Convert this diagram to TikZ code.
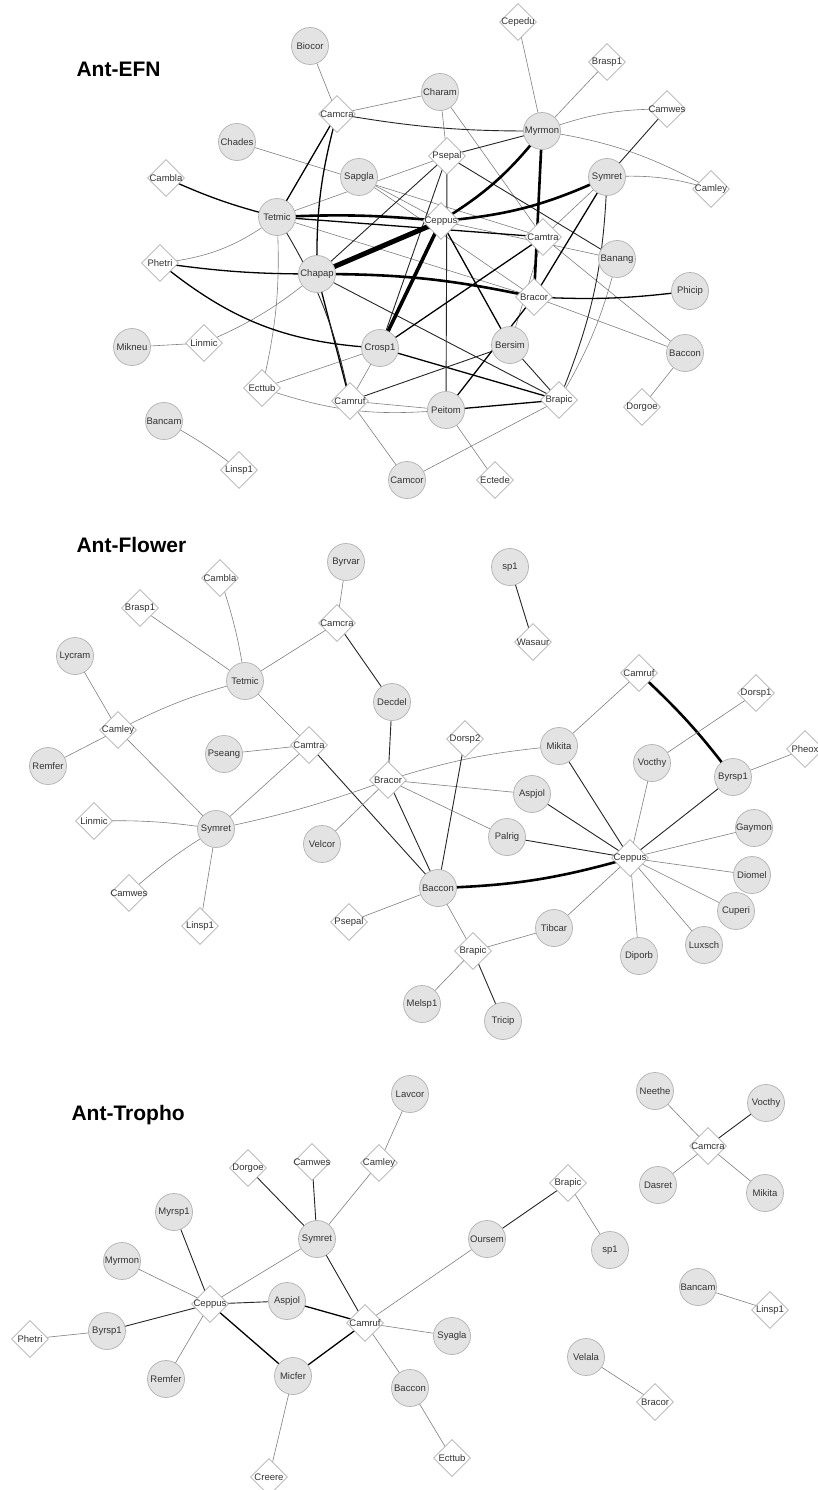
\documentclass[tikz,border=0pt]{standalone}
\usepackage{fontspec}
\setmainfont{Liberation Sans}
\usetikzlibrary{shapes.geometric,backgrounds}
\newcommand{\plbox}[1]{\makebox[0pt][c]{#1}}
\begin{document}
\begin{tikzpicture}[x=1pt,y=-1pt,
  ant/.style={circle,fill=black!11,draw=black!30,line width=0.7pt,minimum size=37pt,inner sep=0pt,font=\fontsize{9.5}{10}\selectfont,text=black!80},
  plant/.style={diamond,fill=white,draw=black!30,line width=0.7pt,minimum width=37pt,minimum height=37pt,inner sep=0pt,font=\fontsize{9.5}{10}\selectfont,text=black!80},
  ttl/.style={font=\bfseries\fontsize{21}{24}\selectfont,anchor=west},
  g/.style={draw=black!50,line width=0.6pt},
  d/.style={draw=black!85,line width=0.9pt},
  m/.style={draw=black,line width=1.3pt},
  t/.style={draw=black,line width=2.6pt},
  tt/.style={draw=black,line width=3.6pt},
  ttt/.style={draw=black,line width=5pt},
]
\useasboundingbox (0,0) rectangle (817,1490);

% ---------------- Ant-EFN ----------------
\node[ttl] (tA) at (73,69) {Ant-EFN};
\node[ant] (aBiocor) at (310,46) {Biocor};
\node[ant] (aCharam) at (440,92) {Charam};
\node[ant] (aMyrmon) at (542,131) {Myrmon};
\node[ant] (aChades) at (237,142) {Chades};
\node[ant] (aSapgla) at (359,177) {Sapgla};
\node[ant] (aSymret) at (607,177) {Symret};
\node[ant] (aTetmic) at (277,217) {Tetmic};
\node[ant] (aBanang) at (617,259) {Banang};
\node[ant] (aChapap) at (317,274) {Chapap};
\node[ant] (aPhicip) at (690,291) {Phicip};
\node[ant] (aMikneu) at (132,347) {Mikneu};
\node[ant] (aCrosp1) at (380,348) {Crosp1};
\node[ant] (aBersim) at (510,345) {Bersim};
\node[ant] (aBaccon) at (685,353) {Baccon};
\node[ant] (aPeitom) at (446,410) {Peitom};
\node[ant] (aBancam) at (164,421) {Bancam};
\node[ant] (aCamcor) at (407,480) {Camcor};
\node[plant] (aCepedu) at (518,22) {\plbox{Cepedu}};
\node[plant] (aBrasp1) at (607,62) {\plbox{Brasp1}};
\node[plant] (aCamcra) at (337,114) {\plbox{Camcra}};
\node[plant] (aCamwes) at (667,109) {\plbox{Camwes}};
\node[plant] (aPsepal) at (447,156) {\plbox{Psepal}};
\node[plant] (aCamley) at (711,189) {\plbox{Camley}};
\node[plant] (aCambla) at (166,178) {\plbox{Cambla}};
\node[plant] (aCeppus) at (441,221) {\plbox{Ceppus}};
\node[plant] (aCamtra) at (543,237) {\plbox{Camtra}};
\node[plant] (aPhetri) at (160,263) {\plbox{Phetri}};
\node[plant] (aBracor) at (534,297) {\plbox{Bracor}};
\node[plant] (aLinmic) at (204,343) {\plbox{Linmic}};
\node[plant] (aEcttub) at (262,388) {\plbox{Ecttub}};
\node[plant] (aCamruf) at (350,401) {\plbox{Camruf}};
\node[plant] (aBrapic) at (559,400) {\plbox{Brapic}};
\node[plant] (aDorgoe) at (642,407) {\plbox{Dorgoe}};
\node[plant] (aLinsp1) at (239,470) {\plbox{Linsp1}};
\node[plant] (aEctede) at (495,480) {\plbox{Ectede}};

% ---------------- Ant-Flower ----------------
\node[ttl] (tB) at (73,545) {Ant-Flower};
\node[ant] (bByrvar) at (346,562) {Byrvar};
\node[ant] (bLycram) at (75,656) {Lycram};
\node[ant] (bTetmic) at (245,681) {Tetmic};
\node[ant] (bDecdel) at (392,702) {Decdel};
\node[ant] (bPseang) at (224,754) {Pseang};
\node[ant] (bRemfer) at (48,766) {Remfer};
\node[ant] (bSymret) at (216,829) {Symret};
\node[ant] (bVelcor) at (322,844) {Velcor};
\node[ant] (bsp1) at (510,567) {sp1};
\node[ant] (bMikita) at (559,746) {Mikita};
\node[ant] (bVocthy) at (652,763) {Vocthy};
\node[ant] (bByrsp1) at (733,777) {Byrsp1};
\node[ant] (bAspjol) at (532,794) {Aspjol};
\node[ant] (bPalrig) at (507,837) {Palrig};
\node[ant] (bGaymon) at (754,828) {Gaymon};
\node[ant] (bDiomel) at (752,875) {Diomel};
\node[ant] (bBaccon) at (438,888) {Baccon};
\node[ant] (bCuperi) at (736,911) {Cuperi};
\node[ant] (bTibcar) at (554,928) {Tibcar};
\node[ant] (bLuxsch) at (704,945) {Luxsch};
\node[ant] (bDiporb) at (639,956) {Diporb};
\node[ant] (bMelsp1) at (422,1004) {Melsp1};
\node[ant] (bTricip) at (503,1021) {Tricip};
\node[plant] (bCambla) at (220,578) {\plbox{Cambla}};
\node[plant] (bBrasp1) at (140,608) {\plbox{Brasp1}};
\node[plant] (bCamcra) at (337,623) {\plbox{Camcra}};
\node[plant] (bCamley) at (118,730) {\plbox{Camley}};
\node[plant] (bCamtra) at (309,745) {\plbox{Camtra}};
\node[plant] (bBracor) at (388,780) {\plbox{Bracor}};
\node[plant] (bWasaur) at (533,642) {\plbox{Wasaur}};
\node[plant] (bCamruf) at (639,673) {\plbox{Camruf}};
\node[plant] (bDorsp1) at (756,693) {\plbox{Dorsp1}};
\node[plant] (bDorsp2) at (465,739) {\plbox{Dorsp2}};
\node[plant] (bPheox) at (805,749) {\plbox{Pheox}};
\node[plant] (bLinmic) at (94,821) {\plbox{Linmic}};
\node[plant] (bCamwes) at (129,893) {\plbox{Camwes}};
\node[plant] (bLinsp1) at (200,926) {\plbox{Linsp1}};
\node[plant] (bPsepal) at (349,922) {\plbox{Psepal}};
\node[plant] (bCeppus) at (630,858) {\plbox{Ceppus}};
\node[plant] (bBrapic) at (473,951) {\plbox{Brapic}};

% ---------------- Ant-Tropho ----------------
\node[ttl] (tC) at (68,1115) {Ant-Tropho};
\node[ant] (cLavcor) at (410,1094) {Lavcor};
\node[ant] (cMyrsp1) at (174,1212) {Myrsp1};
\node[ant] (cSymret) at (317,1239) {Symret};
\node[ant] (cMyrmon) at (122,1261) {Myrmon};
\node[ant] (cNeethe) at (655,1091) {Neethe};
\node[ant] (cVocthy) at (766,1103) {Vocthy};
\node[ant] (cDasret) at (658,1185) {Dasret};
\node[ant] (cMikita) at (765,1193) {Mikita};
\node[ant] (cOursem) at (487,1239) {Oursem};
\node[ant] (csp1) at (610,1250) {sp1};
\node[ant] (cAspjol) at (287,1301) {Aspjol};
\node[ant] (cByrsp1) at (107,1331) {Byrsp1};
\node[ant] (cRemfer) at (166,1379) {Remfer};
\node[ant] (cMicfer) at (293,1376) {Micfer};
\node[ant] (cBaccon) at (410,1388) {Baccon};
\node[ant] (cBancam) at (698,1287) {Bancam};
\node[ant] (cSyagla) at (452,1336) {Syagla};
\node[ant] (cVelala) at (586,1357) {Velala};
\node[plant] (cDorgoe) at (248,1168) {\plbox{Dorgoe}};
\node[plant] (cCamwes) at (312,1162) {\plbox{Camwes}};
\node[plant] (cCamley) at (379,1163) {\plbox{Camley}};
\node[plant] (cCamcra) at (708,1146) {\plbox{Camcra}};
\node[plant] (cBrapic) at (568,1183) {\plbox{Brapic}};
\node[plant] (cCeppus) at (210,1304) {\plbox{Ceppus}};
\node[plant] (cCamruf) at (365,1323) {\plbox{Camruf}};
\node[plant] (cPhetri) at (30,1339) {\plbox{Phetri}};
\node[plant] (cCreere) at (269,1477) {\plbox{Creere}};
\node[plant] (cLinsp1) at (770,1310) {\plbox{Linsp1}};
\node[plant] (cBracor) at (655,1402) {\plbox{Bracor}};
\node[plant] (cEcttub) at (452,1458) {\plbox{Ecttub}};

\begin{pgfonlayer}{background}
\fill[white] (0,0) rectangle (817,1490);
% ---- EFN edges
\draw[g] (aBiocor.center) -- (aCamcra.center);
\draw[g] (aCharam.center) -- (aCamcra.center);
\draw[g] (aCepedu.center) -- (aMyrmon.center);
\draw[g] (aBrasp1.center) -- (aMyrmon.center);
\draw[g] (aMyrmon.center) to[bend left=10] (aCamwes.center);
\draw[g] (aMyrmon.center) to[bend left=10] (aCamley.center);
\draw[g] (aSymret.center) to[bend left=10] (aCamley.center);
\draw[g] (aCharam.center) -- (aPsepal.center);
\draw[g] (aCharam.center) -- (aCamtra.center);
\draw[g] (aTetmic.center) -- (aPsepal.center);
\draw[g] (aChades.center) -- (aCamtra.center);
\draw[g] (aSapgla.center) -- (aCeppus.center);
\draw[g] (aSapgla.center) -- (aBracor.center);
\draw[g] (aTetmic.center) -- (aBracor.center);
\draw[g] (aPhetri.center) to[bend right=15] (aTetmic.center);
\draw[g] (aTetmic.center) to[bend left=8] (aEcttub.center);
\draw[g] (aLinmic.center) -- (aMikneu.center);
\draw[g] (aLinmic.center) to[bend right=8] (aChapap.center);
\draw[g] (aEcttub.center) -- (aCrosp1.center);
\draw[g] (aEcttub.center) to[bend right=12] (aPeitom.center);
\draw[g] (aCamruf.center) -- (aCrosp1.center);
\draw[g] (aCamruf.center) -- (aCamcor.center);
\draw[g] (aCamruf.center) -- (aPeitom.center);
\draw[g] (aPeitom.center) -- (aEctede.center);
\draw[g] (aBrapic.center) -- (aCamcor.center);
\draw[g] (aBrapic.center) to[bend right=8] (aBanang.center);
\draw[g] (aSymret.center) -- (aCamtra.center);
\draw[g] (aCamtra.center) -- (aBersim.center);
\draw[g] (aCamtra.center) -- (aBaccon.center);
\draw[g] (aBracor.center) -- (aBaccon.center);
\draw[g] (aBaccon.center) -- (aDorgoe.center);
\draw[g] (aCeppus.center) -- (aBanang.center);
\draw[g] (aBancam.center) to[bend left=5] (aLinsp1.center);
\draw[d] (aCamcra.center) to[bend right=5] (aMyrmon.center);
\draw[m] (aCamcra.center) -- (aTetmic.center);
\draw[m] (aCamcra.center) to[bend right=8] (aChapap.center);
\draw[m] (aCambla.center) to[bend right=5] (aTetmic.center);
\draw[d] (aMyrmon.center) -- (aPsepal.center);
\draw[d] (aSymret.center) -- (aCamwes.center);
\draw[d] (aPsepal.center) -- (aChapap.center);
\draw[d] (aPsepal.center) -- (aCrosp1.center);
\draw[d] (aPsepal.center) -- (aBanang.center);
\draw[d] (aPsepal.center) -- (aPeitom.center);
\draw[m] (aTetmic.center) -- (aCamtra.center);
\draw[m] (aPhetri.center) to[bend right=4] (aChapap.center);
\draw[m] (aPhetri.center) to[bend right=18] (aCrosp1.center);
\draw[m] (aChapap.center) -- (aCamruf.center);
\draw[d] (aTetmic.center) to[bend left=10] (aCamruf.center);
\draw[d] (aChapap.center) -- (aBrapic.center);
\draw[m] (aCrosp1.center) -- (aCamtra.center);
\draw[m] (aCrosp1.center) -- (aBrapic.center);
\draw[m] (aCeppus.center) -- (aBersim.center);
\draw[d] (aBersim.center) -- (aBrapic.center);
\draw[d] (aBersim.center) -- (aCamruf.center);
\draw[m] (aPeitom.center) -- (aBracor.center);
\draw[m] (aPeitom.center) -- (aBrapic.center);
\draw[m] (aSymret.center) -- (aBracor.center);
\draw[d] (aBrapic.center) to[bend right=10] (aSymret.center);
\draw[m] (aBracor.center) to[bend right=5] (aPhicip.center);
\draw[ttt] (aChapap.center) -- (aCeppus.center);
\draw[tt] (aCrosp1.center) -- (aCeppus.center);
\draw[t] (aChapap.center) to[bend left=6] (aBracor.center);
\draw[t] (aTetmic.center) to[bend left=4] (aCeppus.center);
\draw[t] (aCeppus.center) to[bend right=10] (aSymret.center);
\draw[t] (aCeppus.center) to[bend right=10] (aMyrmon.center);
\draw[t] (aMyrmon.center) -- (aBracor.center);

% ---- Flower edges
\draw[g] (bByrvar.center) -- (bCamcra.center);
\draw[g] (bCamcra.center) -- (bTetmic.center);
\draw[d] (bCamcra.center) -- (bDecdel.center);
\draw[g] (bCambla.center) to[bend left=5] (bTetmic.center);
\draw[g] (bBrasp1.center) -- (bTetmic.center);
\draw[g] (bTetmic.center) to[bend right=6] (bCamley.center);
\draw[g] (bTetmic.center) -- (bCamtra.center);
\draw[g] (bLycram.center) -- (bCamley.center);
\draw[g] (bRemfer.center) -- (bCamley.center);
\draw[g] (bCamley.center) -- (bSymret.center);
\draw[g] (bPseang.center) -- (bCamtra.center);
\draw[g] (bCamtra.center) -- (bSymret.center);
\draw[d] (bCamtra.center) -- (bBaccon.center);
\draw[d] (bDecdel.center) -- (bBracor.center);
\draw[g] (bBracor.center) to[bend left=4] (bSymret.center);
\draw[g] (bBracor.center) -- (bVelcor.center);
\draw[d] (bBracor.center) -- (bBaccon.center);
\draw[g] (bBracor.center) to[bend left=6] (bMikita.center);
\draw[g] (bBracor.center) -- (bAspjol.center);
\draw[g] (bBracor.center) -- (bPalrig.center);
\draw[d] (bDorsp2.center) -- (bBaccon.center);
\draw[g] (bSymret.center) to[bend right=5] (bLinmic.center);
\draw[g] (bSymret.center) to[bend right=5] (bCamwes.center);
\draw[g] (bSymret.center) -- (bLinsp1.center);
\draw[g] (bPsepal.center) -- (bBaccon.center);
\draw[t] (bBaccon.center) to[bend right=7] (bCeppus.center);
\draw[g] (bBaccon.center) -- (bBrapic.center);
\draw[g] (bBrapic.center) -- (bTibcar.center);
\draw[g] (bBrapic.center) -- (bMelsp1.center);
\draw[d] (bBrapic.center) -- (bTricip.center);
\draw[d] (bsp1.center) -- (bWasaur.center);
\draw[g] (bCamruf.center) -- (bMikita.center);
\draw[t] (bCamruf.center) to[bend left=5] (bByrsp1.center);
\draw[g] (bDorsp1.center) -- (bVocthy.center);
\draw[g] (bByrsp1.center) -- (bPheox.center);
\draw[d] (bCeppus.center) -- (bMikita.center);
\draw[g] (bCeppus.center) -- (bVocthy.center);
\draw[d] (bCeppus.center) -- (bByrsp1.center);
\draw[d] (bCeppus.center) -- (bAspjol.center);
\draw[d] (bCeppus.center) -- (bPalrig.center);
\draw[g] (bCeppus.center) -- (bGaymon.center);
\draw[g] (bCeppus.center) -- (bDiomel.center);
\draw[g] (bCeppus.center) -- (bCuperi.center);
\draw[g] (bCeppus.center) -- (bLuxsch.center);
\draw[g] (bCeppus.center) -- (bDiporb.center);
\draw[g] (bCeppus.center) -- (bTibcar.center);

% ---- Tropho edges
\draw[g] (cLavcor.center) -- (cCamley.center);
\draw[g] (cCamley.center) -- (cSymret.center);
\draw[d] (cCamwes.center) -- (cSymret.center);
\draw[d] (cDorgoe.center) -- (cSymret.center);
\draw[g] (cSymret.center) -- (cCeppus.center);
\draw[d] (cSymret.center) -- (cCamruf.center);
\draw[d] (cMyrsp1.center) -- (cCeppus.center);
\draw[g] (cMyrmon.center) -- (cCeppus.center);
\draw[d] (cByrsp1.center) -- (cCeppus.center);
\draw[g] (cPhetri.center) -- (cByrsp1.center);
\draw[g] (cRemfer.center) -- (cCeppus.center);
\draw[d] (cAspjol.center) -- (cCeppus.center);
\draw[m] (cAspjol.center) -- (cCamruf.center);
\draw[m] (cMicfer.center) -- (cCeppus.center);
\draw[m] (cMicfer.center) -- (cCamruf.center);
\draw[g] (cMicfer.center) -- (cCreere.center);
\draw[g] (cCamruf.center) -- (cOursem.center);
\draw[d] (cOursem.center) -- (cBrapic.center);
\draw[g] (cBrapic.center) -- (csp1.center);
\draw[g] (cCamruf.center) -- (cSyagla.center);
\draw[g] (cCamruf.center) -- (cBaccon.center);
\draw[g] (cBaccon.center) -- (cEcttub.center);
\draw[g] (cNeethe.center) -- (cCamcra.center);
\draw[d] (cVocthy.center) -- (cCamcra.center);
\draw[g] (cDasret.center) -- (cCamcra.center);
\draw[g] (cMikita.center) -- (cCamcra.center);
\draw[g] (cBancam.center) -- (cLinsp1.center);
\draw[g] (cVelala.center) -- (cBracor.center);
\end{pgfonlayer}
\end{tikzpicture}
\end{document}
